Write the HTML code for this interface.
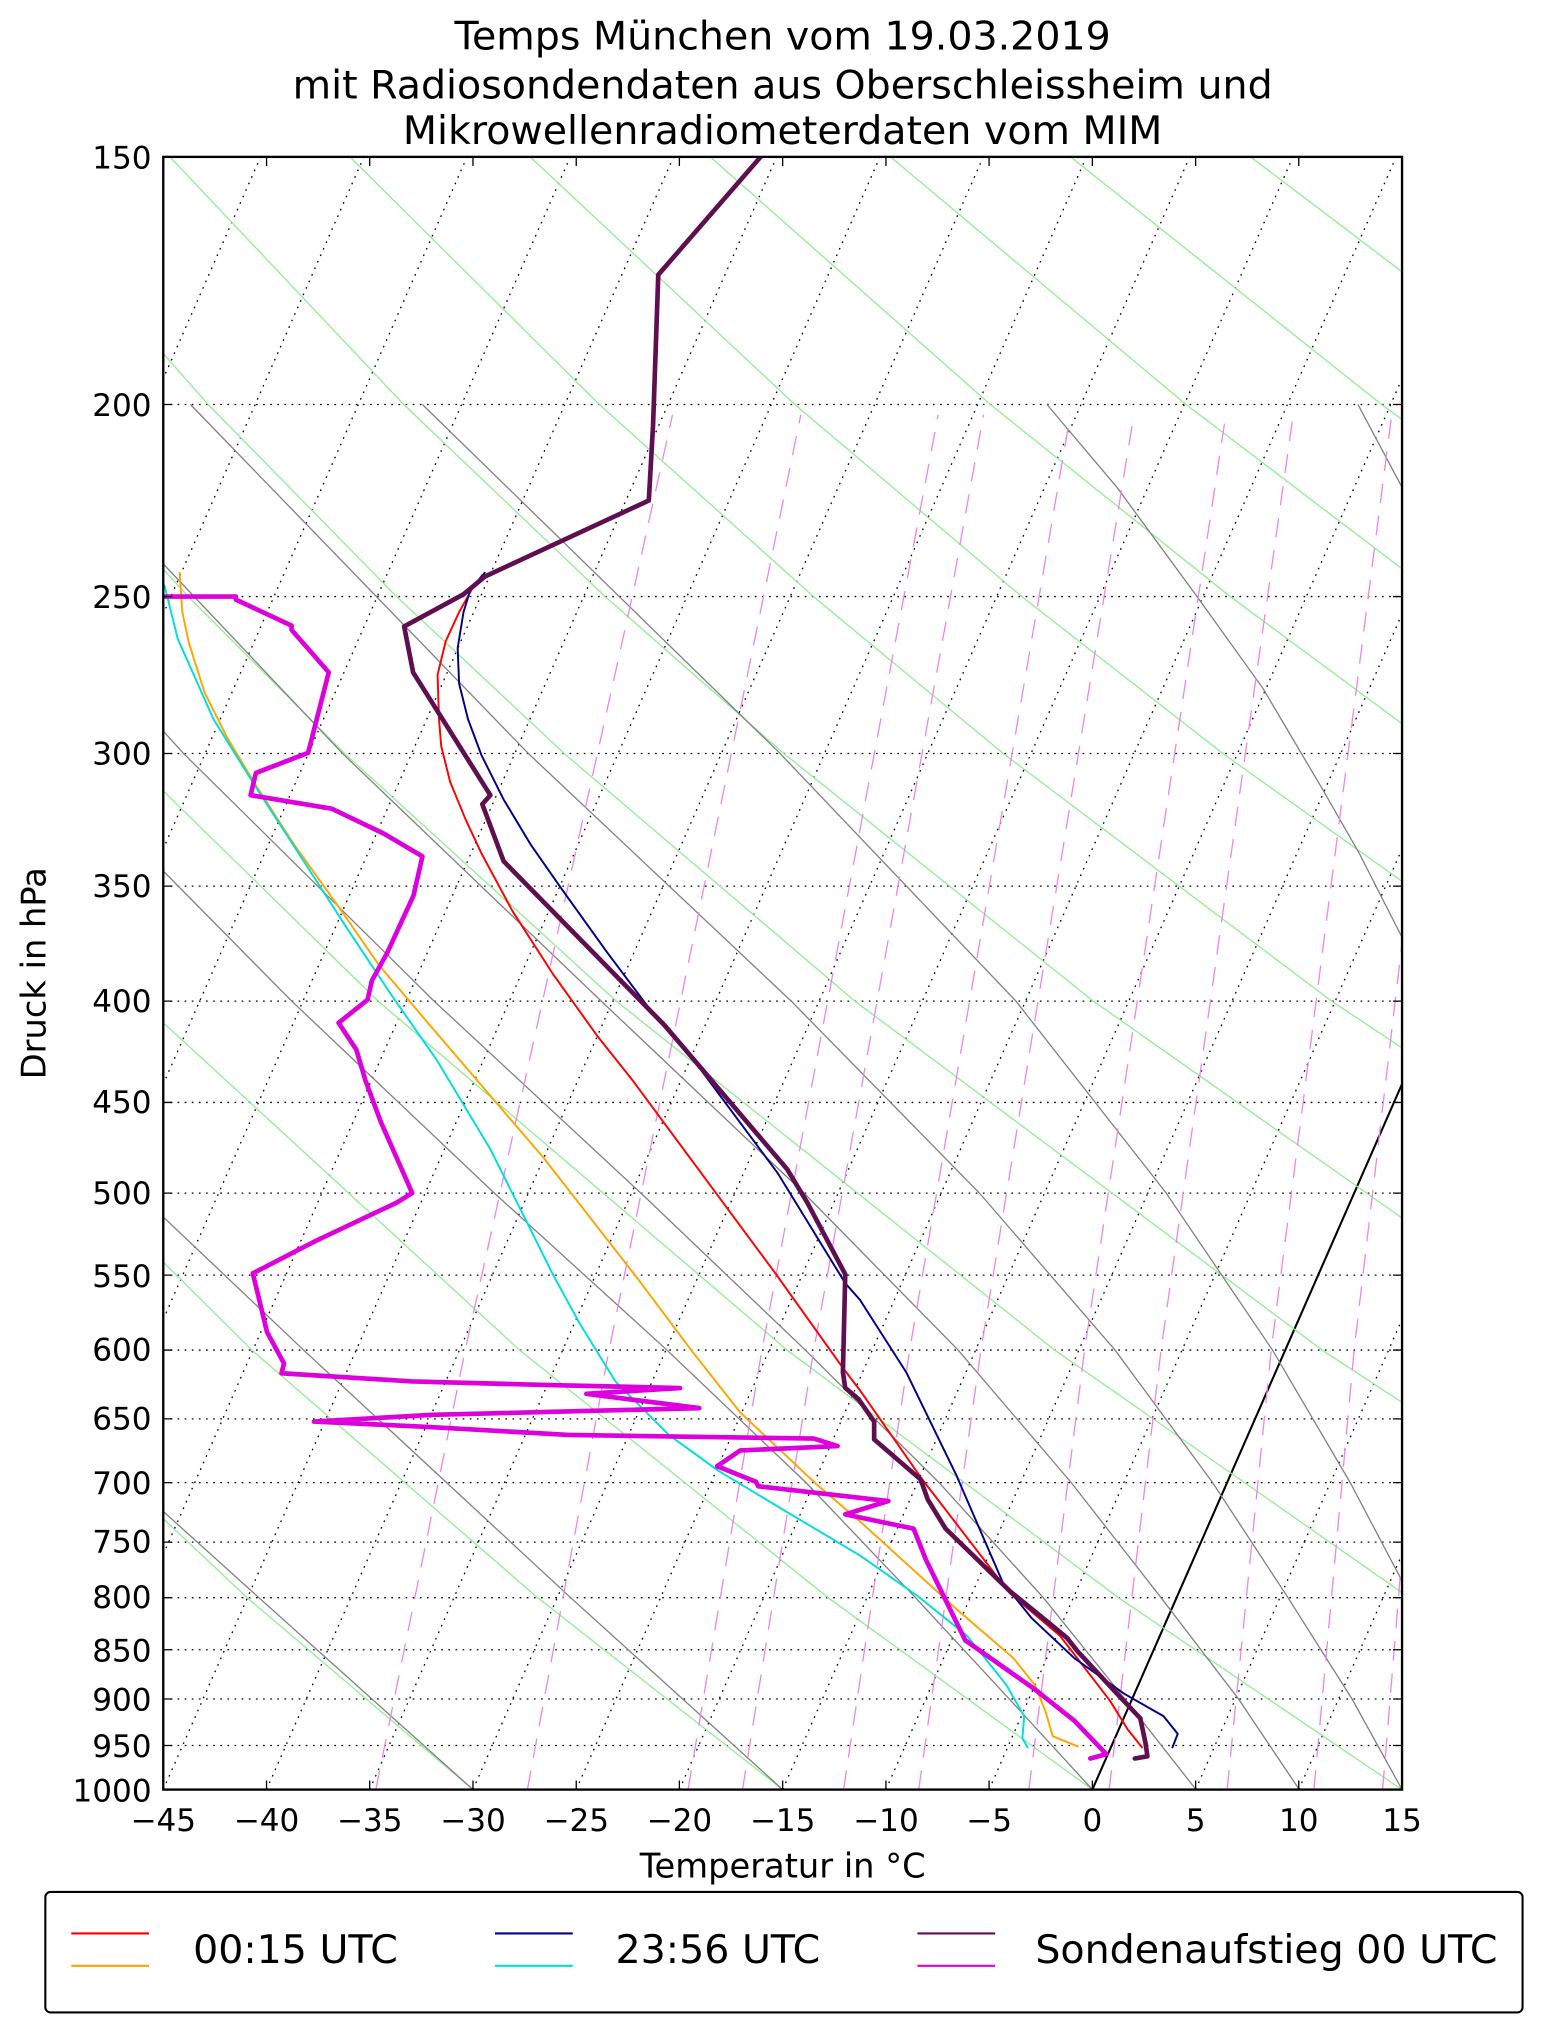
<!DOCTYPE html>
<html><head><meta charset="utf-8"><style>
html,body{margin:0;padding:0;background:#fff;}
svg{display:block;font-family:"DejaVu Sans","Liberation Sans",sans-serif;}
</style></head><body>
<svg xmlns="http://www.w3.org/2000/svg" width="1542" height="2032" viewBox="0 0 1190 1568">
<defs><clipPath id="c"><rect x="126" y="121" width="956" height="1260"/></clipPath></defs>
<rect x="0" y="0" width="1190" height="1568" fill="#fff"/>
<g font-size="30.5" text-anchor="middle" fill="#000">
<text x="604" y="38">Temps München vom 19.03.2019</text>
<text x="604" y="76">mit Radiosondendaten aus Oberschleissheim und</text>
<text x="604" y="111">Mikrowellenradiometerdaten vom MIM</text>
</g>
<g clip-path="url(#c)" fill="none">
<!-- horizontal grid -->
<g stroke="#000" stroke-width="1" stroke-dasharray="1.3,4.2">
<line x1="126" y1="312.1" x2="1082" y2="312.1"/><line x1="126" y1="460.3" x2="1082" y2="460.3"/>
<line x1="126" y1="581.4" x2="1082" y2="581.4"/><line x1="126" y1="683.8" x2="1082" y2="683.8"/>
<line x1="126" y1="772.5" x2="1082" y2="772.5"/><line x1="126" y1="850.7" x2="1082" y2="850.7"/>
<line x1="126" y1="920.7" x2="1082" y2="920.7"/><line x1="126" y1="984" x2="1082" y2="984"/>
<line x1="126" y1="1041.8" x2="1082" y2="1041.8"/><line x1="126" y1="1094.9" x2="1082" y2="1094.9"/>
<line x1="126" y1="1144.1" x2="1082" y2="1144.1"/><line x1="126" y1="1190" x2="1082" y2="1190"/>
<line x1="126" y1="1232.9" x2="1082" y2="1232.9"/><line x1="126" y1="1273.1" x2="1082" y2="1273.1"/>
<line x1="126" y1="1311.1" x2="1082" y2="1311.1"/><line x1="126" y1="1347" x2="1082" y2="1347"/>
</g>
<!-- isotherms -->
<g stroke="#000" stroke-width="1" stroke-dasharray="1.3,4.2">
<line x1="-431.7" y1="1381" x2="121.4" y2="121"/><line x1="-352" y1="1381" x2="201.1" y2="121"/>
<line x1="-272.3" y1="1381" x2="280.8" y2="121"/><line x1="-192.7" y1="1381" x2="360.4" y2="121"/>
<line x1="-113" y1="1381" x2="440.1" y2="121"/><line x1="-33.3" y1="1381" x2="519.8" y2="121"/>
<line x1="46.3" y1="1381" x2="599.4" y2="121"/><line x1="126" y1="1381" x2="679.1" y2="121"/>
<line x1="205.7" y1="1381" x2="758.8" y2="121"/><line x1="285.3" y1="1381" x2="838.4" y2="121"/>
<line x1="365" y1="1381" x2="918.1" y2="121"/><line x1="444.7" y1="1381" x2="997.8" y2="121"/>
<line x1="524.3" y1="1381" x2="1077.4" y2="121"/><line x1="604" y1="1381" x2="1157.1" y2="121"/>
<line x1="683.7" y1="1381" x2="1236.8" y2="121"/><line x1="763.3" y1="1381" x2="1316.4" y2="121"/>
<line x1="922.7" y1="1381" x2="1475.8" y2="121"/><line x1="1002.3" y1="1381" x2="1555.4" y2="121"/>
</g>
<line x1="843" y1="1381" x2="1396" y2="121" stroke="#000" stroke-width="1.6"/>
<!-- dry adiabats -->
<g stroke="#90ee90" stroke-width="1">
<polyline points="365,1381 190.7,1232.9 -12.2,1041.8"/>
<polyline points="604,1381 414.9,1232.9 194.3,1041.8 -76.1,772.5"/>
<polyline points="843,1381 639.1,1232.9 400.9,1041.8 107.8,772.5 -73,581.4"/>
<polyline points="1082,1381 863.2,1232.9 607.4,1041.8 291.8,772.5 96.5,581.4 -15.5,460.3"/>
<polyline points="1321,1381 1087.6,1232.9 813.9,1041.8 475.6,772.5 265.9,581.4 145.3,460.3 9.7,312.1 -146.9,121"/>
<polyline points="1560,1381 1311.7,1232.9 1020.4,1041.8 659.7,772.5 435.4,581.4 306,460.3 160.7,312.1 -7.8,121"/>
<polyline points="1536,1232.9 1227.1,1041.8 843.7,772.5 604.8,581.4 467,460.3 311.6,312.1 131.2,121"/>
<polyline points="1433.6,1041.8 1027.6,772.5 774.2,581.4 627.7,460.3 462.5,312.1 270.1,121"/>
<polyline points="1211.6,772.5 943.7,581.4 788.5,460.3 613.4,312.1 409.2,121"/>
<polyline points="1395.5,772.5 1113.1,581.4 949.4,460.3 764.3,312.1 548.1,121"/>
<polyline points="1282.4,581.4 1110.2,460.3 915.3,312.1 687.2,121"/>
<polyline points="1270.9,460.3 1066.2,312.1 826.2,121"/>
<polyline points="1217.1,312.1 965.1,121"/>
<polyline points="1368,312.1 1104.2,121"/>
</g>
<!-- moist adiabats -->
<g stroke="#808080" stroke-width="1">
<polyline points="365,1381 199.8,1232.9 -12,1041.8"/>
<polyline points="604,1381 440.4,1232.9 234.3,1041.8 106.6,920.7"/>
<polyline points="843,1381 778.9,1311.1 706.5,1232.9 622,1144.1 514.7,1041.8 381.5,920.7 225.1,772.5 36.5,581.4"/>
<polyline points="923,1381 868.1,1311.1 805.2,1232.9 724.7,1144.1 621.5,1041.8 494.6,920.7 335,772.5 141.6,581.4 -101.8,312.1"/>
<polyline points="1002.7,1381 955.8,1311.1 896,1232.9 826.7,1144.1 739.4,1041.8 620.5,920.7 464,772.5 264.3,581.4 9.7,312.1"/>
<polyline points="1082,1381 1043.4,1311.1 994,1232.9 935.8,1144.1 860.5,1041.8 755.9,920.7 610.6,772.5 407.7,581.4 147,312.1"/>
<polyline points="1161.7,1381 1128.6,1311.1 1088.8,1232.9 1042,1144.1 982,1041.8 900,920.7 784,772.5 602,581.4 326,312.1"/>
<polyline points="808,312.1 861.9,375.9 925,462 974.6,531.1 1021.4,610.3 1049,658.5 1082,723.3 1120,800"/>
<polyline points="1048,312.1 1082,376 1120,460"/>
</g>
<!-- mixing ratio lines -->
<g stroke="#ee82ee" stroke-width="1" stroke-dasharray="15,10">
<polyline points="290,1381 359,1041.8 519,320"/>
<polyline points="407,1381 470,1041.8 618,320"/>
<polyline points="531,1381 588,1041.8 724,320"/>
<polyline points="573,1381 628,1041.8 759,320"/>
<polyline points="651,1381 702,1041.8 826,320"/>
<polyline points="709,1381 757,1041.8 875,320"/>
<polyline points="794,1381 837,1041.8 946,320"/>
<polyline points="856,1381 896,1041.8 998,320"/>
<polyline points="947,1381 981,1041.8 1074,320"/>
<polyline points="1014,1381 1045,1041.8 1130,320"/>
<polyline points="1067,1381 1095,1041.8 1174,320"/>
</g>
</g>
<g clip-path="url(#c)" fill="none" stroke-linejoin="round" stroke-linecap="round">
<polyline stroke="#ff0000" stroke-width="1.5" points="372,444 364,455 354.3,472.3 344,494.7 337.7,520.6 338.8,555 340.5,575.7 347.4,603.3 359.4,632.5 371.5,658.4 395.6,703.2 426.6,751.4 461.1,799.6 488,833.4 598.9,983.3 650.5,1055.6 663.6,1072.8 711.8,1141.7 779.4,1229.6 818,1262.3 856.5,1312.3 870.3,1334.6 881.3,1348.4"/>
<polyline stroke="#ffa500" stroke-width="1.5" points="138.6,442 140.7,472.3 145.9,496.5 157.9,534.4 175.1,568.8 195.8,603.3 226.8,651.5 261.3,699.7 292.3,744.5 330.2,789.3 368,833.4 419.7,893.7 492.1,986.7 533.4,1041.8 571.3,1090 629.9,1145.2 663.6,1174 738,1241.6 782,1279.5 798.6,1300.2 806.9,1320.9 812.4,1339.8 831.7,1347.7"/>
<polyline stroke="#00008b" stroke-width="1.5" points="374,442 363,455 357.7,472.3 353.2,500 354.3,527.5 361.2,555 371.5,582.6 388.7,617 409.4,651.5 433.5,686 468,734.2 499,775.5 536.9,820.2 600,905 652.3,990.2 663.6,1003 699.4,1059 738,1138.3 773.8,1221 796,1248.5 829,1279.5 867.5,1307 897.9,1324.3 908.9,1338 904.8,1348.4"/>
<polyline stroke="#00dddd" stroke-width="1.5" points="126.9,451.7 137.2,493 164.8,555 199.2,610.2 237.1,668.7 268.2,717 302.6,768.6 337,817.9 357.7,852.3 378.4,886.8 406,941.9 426.6,983.3 447.3,1021.2 474.9,1066 516.2,1107.3 554.1,1134.8 605.8,1165.9 663.6,1200.3 707.7,1231.3 746.3,1262.3 776.6,1300.2 790.4,1324.3 789,1341.5 793.1,1348.4"/>
<polyline stroke="#dd00dd" stroke-width="3.6" points="126.9,460.3 182,460.3 182,462.7 225,482.7 225,486 253.7,518.8 237.8,580.9 197.5,596.4 193.4,613.6 256,624 295.7,643 326,660.8 319.1,691.1 298.5,735.9 287,756.6 283.7,771.4 261.3,789.3 275,810 281.9,833.4 294,866 318.1,920.6 306,928.1 244,957.4 195.1,982.6 206.1,1028 219.2,1052.2 217.2,1059.7 318.1,1066 419.7,1068.7 524.8,1071.1 452.5,1075.6 539.6,1086.6 333.6,1091.8 242.3,1097 330.2,1101.1 438.7,1107.3 628.1,1110.1 646.4,1115.9 571.3,1119.3 553.4,1131.4 583.4,1143.5 585.1,1146.9 685.6,1158.3 652.3,1168.6 705,1179.6 714.6,1203.7 744.9,1265.8 798.6,1303.6 829,1327.8 853.8,1353.6 841.4,1357"/>
<polyline stroke="#5f0f4f" stroke-width="3.6" points="587,121 508,212 505.2,293.2 504,327.6 500.7,386.2 374.3,444.8 357.7,458.6 311.9,483.4 318.8,518.8 378.4,613.6 372.2,620.5 388.7,664.6 512.7,791 548.9,833.4 607.5,902.3 623,928 652.3,983.3 650.5,1059 652.3,1071 662.6,1079.7 674.6,1097 674.6,1110.7 710.5,1141.7 716,1157.2 729.7,1179.6 779.4,1227.9 806.9,1250.3 823.5,1264 831.7,1274.4 862,1307 880,1326 884,1345 885.5,1355.3 875.8,1357"/>
</g>
<rect x="126" y="121" width="956" height="1260" fill="none" stroke="#000" stroke-width="1.8"/>
<!-- ticks -->
<g stroke="#000" stroke-width="1">
<path d="M126,312.1h7M126,460.3h7M126,581.4h7M126,683.8h7M126,772.5h7M126,850.7h7M126,920.7h7M126,984h7M126,1041.8h7M126,1094.9h7M126,1144.1h7M126,1190h7M126,1232.9h7M126,1273.1h7M126,1311.1h7M126,1347h7"/>
<path d="M1082,312.1h-7M1082,460.3h-7M1082,581.4h-7M1082,683.8h-7M1082,772.5h-7M1082,850.7h-7M1082,920.7h-7M1082,984h-7M1082,1041.8h-7M1082,1094.9h-7M1082,1144.1h-7M1082,1190h-7M1082,1232.9h-7M1082,1273.1h-7M1082,1311.1h-7M1082,1347h-7"/>
<path d="M205.7,1381v-7M285.3,1381v-7M365,1381v-7M444.7,1381v-7M524.3,1381v-7M604,1381v-7M683.7,1381v-7M763.3,1381v-7M843,1381v-7M922.7,1381v-7M1002.3,1381v-7"/>
<path d="M205.7,121v7M285.3,121v7M365,121v7M444.7,121v7M524.3,121v7M604,121v7M683.7,121v7M763.3,121v7M843,121v7M922.7,121v7M1002.3,121v7"/>
</g>
<g font-size="24" fill="#000" text-anchor="end">
<text x="117" y="130">150</text><text x="117" y="321">200</text><text x="117" y="469">250</text>
<text x="117" y="590">300</text><text x="117" y="692">350</text><text x="117" y="781">400</text>
<text x="117" y="859">450</text><text x="117" y="929">500</text><text x="117" y="993">550</text>
<text x="117" y="1050">600</text><text x="117" y="1103">650</text><text x="117" y="1153">700</text>
<text x="117" y="1198">750</text><text x="117" y="1241">800</text><text x="117" y="1282">850</text>
<text x="117" y="1320">900</text><text x="117" y="1356">950</text><text x="117" y="1390">1000</text>
</g>
<g font-size="24" fill="#000" text-anchor="middle">
<text x="126" y="1413">−45</text><text x="205.7" y="1413">−40</text><text x="285.3" y="1413">−35</text>
<text x="365" y="1413">−30</text><text x="444.7" y="1413">−25</text><text x="524.3" y="1413">−20</text>
<text x="604" y="1413">−15</text><text x="683.7" y="1413">−10</text><text x="763.3" y="1413">−5</text>
<text x="843" y="1413">0</text><text x="922.7" y="1413">5</text><text x="1002.3" y="1413">10</text>
<text x="1082" y="1413">15</text>
</g>
<text x="604" y="1449" font-size="26" text-anchor="middle">Temperatur in °C</text>
<text transform="translate(35,751) rotate(-90)" font-size="26" text-anchor="middle">Druck in hPa</text>
<rect x="35" y="1460" width="1140" height="93" rx="4" fill="#fff" stroke="#000" stroke-width="1.6"/>
<g stroke-width="1.6">
<line x1="55" y1="1492" x2="115" y2="1492" stroke="#ff0000"/>
<line x1="55" y1="1517" x2="115" y2="1517" stroke="#ffa500"/>
<line x1="382" y1="1492" x2="442" y2="1492" stroke="#00008b"/>
<line x1="382" y1="1517" x2="442" y2="1517" stroke="#00dddd"/>
<line x1="708" y1="1492" x2="768" y2="1492" stroke="#5f0f4f"/>
<line x1="708" y1="1517" x2="768" y2="1517" stroke="#dd00dd"/>
</g>
<g font-size="30.5" fill="#000">
<text x="149" y="1515">00:15 UTC</text>
<text x="475" y="1515">23:56 UTC</text>
<text x="799" y="1515">Sondenaufstieg 00 UTC</text>
</g>
</svg>
</body></html>
